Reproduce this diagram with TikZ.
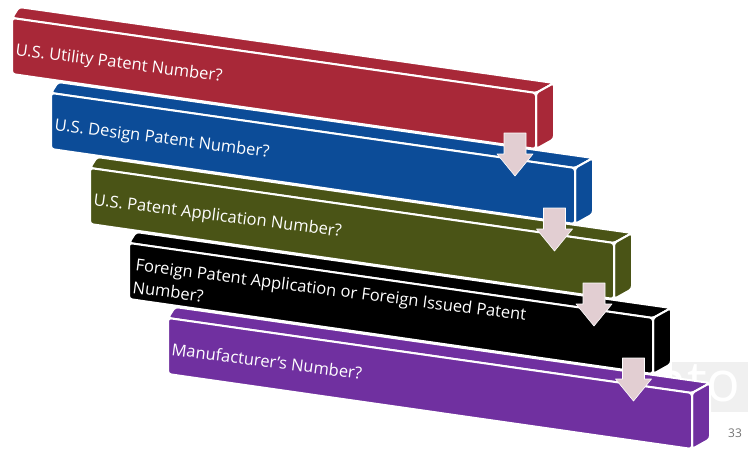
\documentclass[tikz,border=0pt]{standalone}
\usepackage{fontspec}
\setmainfont{Open Sans}
\usetikzlibrary{calc}

\definecolor{barRed}{RGB}{168,40,56}
\definecolor{barBlue}{RGB}{12,76,152}
\definecolor{barGreen}{RGB}{74,84,22}
\definecolor{barBlack}{RGB}{0,0,0}
\definecolor{barPurple}{RGB}{112,48,160}
\definecolor{arrowPink}{RGB}{226,206,210}

\begin{document}
\begin{tikzpicture}[x = 1pt,
                    y = -1pt,
                    line join = round,
                    face/.style = {draw = white, line width = 2pt, rounded corners = 3pt},
                    barlabel/.style = {text = white, font = \fontsize{16.5}{22.5}\selectfont, inner sep = 0pt,
                                       align = left, anchor = base west, rotate = -7.3},
                    downarrow/.style = {fill = arrowPink, draw = white, line width = .6pt}]
    \useasboundingbox (0,0) rectangle (748,451);

    % Draw the watermark behind the bars:
    \fill [black!6] (672,362) rectangle (748,412);
    \node [text = white, font = \fontsize{56}{60}\selectfont, inner sep = 0pt, anchor = base east] (mark) at (741,401) {nto};

    % Draw the bars, the lowest one first:
    \foreach \i/\col/\dy/\txt in {4/barPurple/37/{Manufacturer’s Number?},
                                  3/barBlack/50/{Foreign Patent Application or Foreign Issued Patent\\Number?},
                                  2/barGreen/37/{U.S. Patent Application Number?},
                                  1/barBlue/37/{U.S. Design Patent Number?},
                                  0/barRed/37/{U.S. Utility Patent Number?}} {
        \pgfmathsetmacro\xo{12+39*\i}
        \pgfmathsetmacro\yo{18+75*\i}
        \filldraw [face, fill = \col] (\xo,\yo) -- (\xo+7,\yo-11) -- (\xo+542,\yo+65) -- (\xo+524,\yo+75) -- cycle;
        \filldraw [face, fill = \col] (\xo+524,\yo+75) -- (\xo+542,\yo+65) -- (\xo+542,\yo+121) -- (\xo+524,\yo+131) -- cycle;
        \filldraw [face, fill = \col] (\xo,\yo) -- (\xo+524,\yo+75) -- (\xo+524,\yo+131) -- (\xo,\yo+56) -- cycle;
        \node [barlabel] (label\i) at (\xo+3,\yo+\dy) {\txt};
    }

    % Draw the arrows between the bars:
    \foreach \k in {0, 1, 2, 3} {
        \coordinate (tip\k) at (515+39.5*\k,176+75*\k);
        \filldraw [downarrow] (tip\k) -- ++(-18,-22) -- ++(7,0) -- ++(0,-21) -- ++(22,0) -- ++(0,21) -- ++(7,0) -- cycle;
    }

    \node [text = black!55, font = \fontsize{12}{14}\selectfont] (page) at (735,433) {33};
\end{tikzpicture}
\end{document}
